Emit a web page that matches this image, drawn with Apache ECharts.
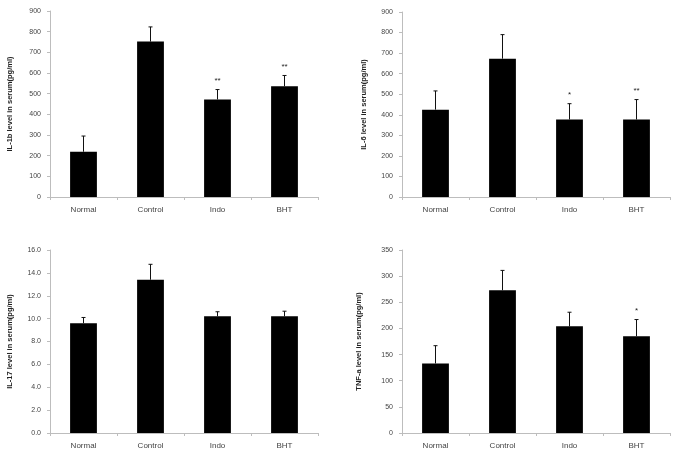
<!DOCTYPE html>
<html>
<head>
<meta charset="utf-8">
<script src="https://cdn.jsdelivr.net/npm/echarts@6/dist/echarts.min.js"></script>
<style>
  html,body{margin:0;padding:0;background:#fff;}
  #main{width:675px;height:460px;}
</style>
</head>
<body>
<div id="main"></div>
<script>
// groups
var categories = ['Normal', 'Control', 'Indo', 'BHT'];

// IL-1b
var il1bMean = [219, 752, 472, 536];
var il1bSd = [76, 71, 48, 52];
var il1bSig = ['', '', '**', '**'];
// IL-6
var il6Mean = [425, 673, 377, 377];
var il6Sd = [91, 117, 77, 97];
var il6Sig = ['', '', '*', '**'];
// IL-17
var il17Mean = [9.6, 13.4, 10.2, 10.2];
var il17Sd = [0.5, 1.35, 0.4, 0.45];
var il17Sig = ['', '', '', ''];
// TNF-a
var tnfMean = [133, 273, 204, 185];
var tnfSd = [34, 38, 27, 32];
var tnfSig = ['', '', '', '*'];

var yTitles = ['IL-1b level in serum(pg/ml)', 'IL-6 level in serum(pg/ml)',
               'IL-17 level in serum(pg/ml)', 'TNF-a level in serum(pg/ml)'];
var yMax = [900, 900, 16, 350];
var yStep = [100, 100, 2, 50];

var txtColor = '#444';
var lineColor = '#bdbdbd';
var font = 'Liberation Sans';

var panels = [
  {mean: il1bMean, sd: il1bSd, sig: il1bSig},
  {mean: il6Mean, sd: il6Sd, sig: il6Sig},
  {mean: il17Mean, sd: il17Sd, sig: il17Sig},
  {mean: tnfMean, sd: tnfSd, sig: tnfSig}
];

var grids = [
  {left: 50, top: 11, width: 268, height: 186},
  {left: 402, top: 12, width: 268, height: 185},
  {left: 50, top: 250, width: 268, height: 183},
  {left: 402, top: 250, width: 268, height: 183}
];
var nameGaps = [36, 34, 36, 39];

var xAxes = [], yAxes = [], series = [];
for (var i = 0; i < 4; i++) {
  xAxes.push({
    type: 'category', gridIndex: i, data: categories,
    axisLine: {lineStyle: {color: lineColor, width: 1}},
    axisTick: {show: true, length: 3, lineStyle: {color: lineColor}},
    axisLabel: {color: txtColor, fontSize: 8, fontFamily: font, margin: 9}
  });
  yAxes.push({
    type: 'value', gridIndex: i, min: 0, max: yMax[i], interval: yStep[i],
    name: yTitles[i], nameLocation: 'middle', nameGap: nameGaps[i],
    nameTextStyle: {color: '#222', fontSize: 7.5, fontWeight: 'bold', fontFamily: font},
    splitLine: {show: false},
    axisLine: {show: true, lineStyle: {color: lineColor, width: 1}},
    axisTick: {show: true, length: 3, lineStyle: {color: lineColor}},
    axisLabel: {
      color: txtColor, fontSize: 7, fontFamily: font, margin: 9,
      formatter: (i == 2) ? function (v) { return v.toFixed(1); } : '{value}'
    }
  });
  series.push({
    type: 'bar', xAxisIndex: i, yAxisIndex: i,
    data: panels[i].mean, barWidth: '40%',
    itemStyle: {color: '#000'}, silent: true
  });
  (function (p) {
    var errData = [];
    for (var k = 0; k < p.mean.length; k++) errData.push([k, p.mean[k], p.sd[k]]);
    series.push({
      type: 'custom', xAxisIndex: i, yAxisIndex: i, data: errData, z: 5, silent: true,
      renderItem: function (params, api) {
        var x = api.value(0);
        var base = api.coord([x, api.value(1)]);
        var top = api.coord([x, api.value(1) + api.value(2)]);
        var kids = [
          {type: 'line', shape: {x1: base[0], y1: base[1], x2: top[0], y2: top[1]},
           style: {stroke: '#111', lineWidth: 1}},
          {type: 'line', shape: {x1: top[0] - 2, y1: top[1], x2: top[0] + 2, y2: top[1]},
           style: {stroke: '#111', lineWidth: 1}}
        ];
        var s = p.sig[params.dataIndex];
        if (s) {
          kids.push({type: 'text', style: {text: s, x: top[0], y: top[1] - 5,
            align: 'center', verticalAlign: 'bottom', fill: '#222',
            font: '8px ' + font}});
        }
        return {type: 'group', children: kids};
      }
    });
  })(panels[i]);
}

var chart = echarts.init(document.getElementById('main'));
chart.setOption({
  backgroundColor: '#fff',
  animation: false,
  grid: grids,
  xAxis: xAxes,
  yAxis: yAxes,
  series: series
});
</script>
</body>
</html>
